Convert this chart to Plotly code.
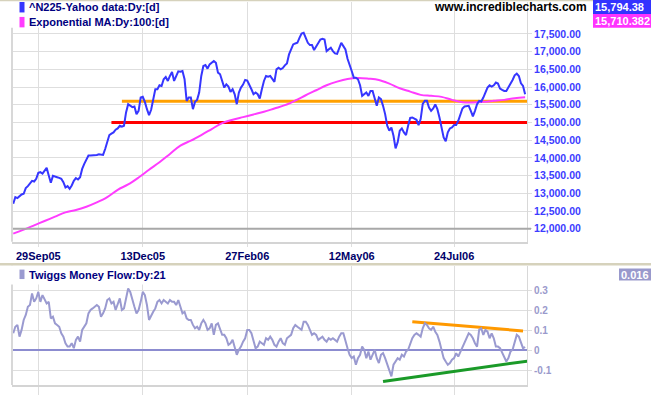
import plotly.graph_objects as go

# ---------------- data ----------------
tick_days = [12, 62, 112, 162, 211]
tick_labels = ["29Sep05", "13Dec05", "27Feb06", "12May06", "24Jul06"]

price = [
    12708, 12895, 12867, 12923, 12970, 12988, 13148, 13204, 13297, 13354,
    13335, 13410, 13578, 13597, 13559, 13644, 13719, 13503, 13297, 13494,
    13485, 13456, 13438, 13410, 13316, 13166, 13204, 13129, 13222, 13354,
    13428, 13391, 13456, 13690, 13831, 13953, 14065, 14065, 14065, 14065,
    14084, 14102, 14084, 14084, 14252, 14486, 14645, 14683, 14720, 14795,
    14832, 14907, 14879, 14907, 15282, 15516, 15478, 15431, 15450, 15235,
    15328, 15703, 15722, 15581, 15375, 15207, 15357, 15656, 15937, 15937,
    16049, 16030, 16218, 16283, 16171, 16311, 16424, 16171, 16311, 16442,
    16433, 16452, 16218, 15609, 15703, 15703, 15375, 15581, 15637, 15843,
    16311, 16592, 16620, 16517, 16639, 16686, 16732, 16686, 16405, 16358,
    16171, 15984, 16077, 16012, 15862, 15937, 15796, 15516, 15843, 15984,
    16068, 16199, 16180, 16030, 15937, 15796, 15843, 15796, 15675, 15937,
    16171, 16311, 16293, 16311, 16218, 16143, 16498, 16545, 16498, 16536,
    16611, 16667, 16920, 17079, 17200, 17229, 17247, 17388, 17509, 17528,
    17397, 17247, 17182, 17182, 17041, 17135, 17229, 17341, 17360, 17341,
    17013, 17060, 17107, 17013, 16948, 16938, 17107, 17247, 17154, 17060,
    16798, 16592, 16452, 16264, 16264, 16218, 16049, 15750, 15796, 15843,
    15750, 15890, 15890, 15656, 15469, 15703, 15656, 15469, 15235, 14907,
    14767, 14860, 14626, 14271, 14439, 14767, 14832, 14720, 14645, 14907,
    15132, 15141, 15113, 15076, 14926, 15094, 15525, 15609, 15609, 15422,
    15328, 15394, 15506, 15375, 15141, 14814, 14580, 14467, 14720, 14832,
    14860, 14926, 14926, 15048, 15235, 15394, 15450, 15450, 15469, 15328,
    15169, 15328, 15516, 15609, 15590, 15703, 15862, 15984, 16049, 16012,
    16049, 16124, 16096, 15956, 15918, 15890, 15890, 15984, 16077, 16199,
    16330, 16377, 16311, 16105, 16030, 15794.38,
]

ma_days = list(range(0, 246, 5))
ma100 = [
    11865, 11978, 12099, 12221, 12343, 12464, 12530, 12623, 12745, 12895,
    13101, 13251, 13447, 13666, 13878, 14112, 14346, 14486, 14645, 14814,
    14982, 15076, 15151, 15226, 15300, 15394, 15488, 15619, 15768, 15909,
    16049, 16152, 16227, 16255, 16236, 16199, 16096, 15965, 15871, 15778,
    15750, 15722, 15637, 15572, 15562, 15581, 15609, 15637, 15684, 15710.382,
]

tmf = [
    0.085, 0.118, 0.127, 0.068, 0.102, 0.152, 0.177, 0.218, 0.227, 0.285,
    0.243, 0.260, 0.293, 0.243, 0.277, 0.252, 0.235, 0.243, 0.160, 0.168,
    0.135, 0.127, 0.118, 0.085, 0.068, 0.035, 0.018, 0.018, 0.035, 0.010,
    0.052, 0.068, 0.043, 0.102, 0.118, 0.135, 0.185, 0.202, 0.210, 0.218,
    0.227, 0.218, 0.168, 0.185, 0.210, 0.252, 0.260, 0.235, 0.243, 0.202,
    0.227, 0.260, 0.202, 0.210, 0.260, 0.310, 0.293, 0.252, 0.218, 0.185,
    0.202, 0.243, 0.293, 0.277, 0.227, 0.152, 0.177, 0.193, 0.210, 0.243,
    0.252, 0.235, 0.252, 0.243, 0.235, 0.252, 0.243, 0.243, 0.227, 0.252,
    0.218, 0.185, 0.193, 0.160, 0.152, 0.152, 0.127, 0.110, 0.118, 0.102,
    0.135, 0.152, 0.135, 0.102, 0.110, 0.135, 0.077, 0.127, 0.135, 0.102,
    0.077, 0.077, 0.060, 0.027, 0.035, 0.052, 0.018, -0.023, 0.002, 0.018,
    0.043, 0.060, 0.102, 0.102, 0.085, 0.052, 0.010, 0.018, 0.043, 0.035,
    0.027, 0.060, 0.052, 0.068, 0.052, 0.027, 0.018, 0.043, 0.060, 0.035,
    0.027, 0.060, 0.068, 0.077, 0.110, 0.127, 0.118, 0.110, 0.102, 0.143,
    0.143, 0.127, 0.102, 0.077, 0.085, 0.077, 0.052, 0.060, 0.068, 0.052,
    0.043, 0.060, 0.052, 0.060, 0.052, 0.043, 0.068, 0.085, 0.085, 0.043,
    0.010, -0.023, -0.040, -0.032, -0.073, -0.040, -0.023, 0.018, 0.002, -0.040,
    -0.007, -0.048, -0.023, 0.002, -0.040, -0.065, -0.023, -0.015, -0.040, -0.073,
    -0.107, -0.132, -0.073, -0.057, -0.040, -0.048, -0.023, -0.032, -0.007, 0.002,
    0.035, 0.060, 0.077, 0.085, 0.077, 0.068, 0.110, 0.135, 0.127, 0.110,
    0.102, 0.118, 0.093, 0.077, 0.043, -0.007, -0.040, -0.057, -0.073, -0.065,
    -0.048, -0.040, -0.015, -0.032, -0.007, 0.010, 0.043, 0.060, 0.085, 0.077,
    0.060, 0.035, 0.018, 0.102, 0.110, 0.077, 0.102, 0.093, 0.060, 0.085,
    0.060, 0.018, 0.018, 0.010, -0.015, -0.032, -0.057, -0.040, -0.007, 0.002,
    0.043, 0.077, 0.068, 0.043, 0.010, 0.016,
]

support_x = [47, 246]
support_y = [15000, 15000]
resist_x = [52, 246]
resist_y = [15600, 15600]
tmf_upper_x = [191, 244]
tmf_upper_y = [0.143, 0.097]
tmf_lower_x = [177, 246]
tmf_lower_y = [-0.157, -0.055]

price_ticks = list(range(12000, 18000, 500))
price_tick_text = [f"{v:,.2f}" for v in price_ticks]
tmf_ticks = [-0.1, 0, 0.1, 0.2, 0.3]
tmf_tick_text = ["-0.1", "0", "0.1", "0.2", "0.3"]
baseline_level = 12000

last_price_text = "15,794.38"
last_ma_text = "15,710.382"
last_tmf_text = "0.016"

# ---------------- geometry helpers ----------------
W, H = 651, 395
ML, MR, MT, MB = 12, 124, 2, 8
PW = W - ML - MR
PH = H - MT - MB


def px(x):
    return (x - ML) / PW


def py(y):
    return (H - MB - y) / PH


FONT = "Liberation Sans, Arial, sans-serif"
BLUE = "#3636ff"
MAGENTA = "#ff3cff"
LAV = "#9a9ad0"
GRID = "#dedede"

fig = go.Figure()

fig.add_trace(go.Scatter(x=support_x, y=support_y, mode="lines",
                         line=dict(color="#ff0000", width=3), xaxis="x", yaxis="y"))
fig.add_trace(go.Scatter(x=resist_x, y=resist_y, mode="lines",
                         line=dict(color="#ffa000", width=3), xaxis="x", yaxis="y"))
fig.add_trace(go.Scatter(x=ma_days, y=ma100, mode="lines",
                         line=dict(color=MAGENTA, width=2, shape="spline"), xaxis="x", yaxis="y"))
fig.add_trace(go.Scatter(x=list(range(len(price))), y=price, mode="lines",
                         line=dict(color=BLUE, width=2), xaxis="x", yaxis="y"))

fig.add_trace(go.Scatter(x=tmf_upper_x, y=tmf_upper_y, mode="lines",
                         line=dict(color="#ff9900", width=3), xaxis="x2", yaxis="y2"))
fig.add_trace(go.Scatter(x=tmf_lower_x, y=tmf_lower_y, mode="lines",
                         line=dict(color="#1a9a28", width=3), xaxis="x2", yaxis="y2"))
fig.add_trace(go.Scatter(x=list(range(len(tmf))), y=tmf, mode="lines",
                         line=dict(color=LAV, width=2), xaxis="x2", yaxis="y2"))

xrange = [-0.59, 245.9]

shapes = [
    dict(type="line", xref="paper", yref="y", x0=0, x1=px(531), y0=baseline_level, y1=baseline_level,
         line=dict(color="#a8a8a8", width=2), layer="above"),
    dict(type="line", xref="paper", yref="y domain", x0=0, x1=0, y0=0, y1=1,
         line=dict(color="#d8d8d8", width=2)),
    dict(type="line", xref="paper", yref="y2 domain", x0=0, x1=0, y0=0, y1=1,
         line=dict(color="#d8d8d8", width=2)),
    dict(type="rect", xref="paper", yref="paper", x0=px(0), x1=px(180), y0=py(28), y1=py(0),
         fillcolor="white", line=dict(width=0), layer="above"),
    dict(type="rect", xref="paper", yref="paper", x0=px(0), x1=px(180), y0=py(286), y1=py(267),
         fillcolor="white", line=dict(width=0), layer="above"),
    dict(type="line", xref="paper", yref="paper", x0=px(0), x1=px(651), y0=py(265.5), y1=py(265.5),
         line=dict(color="#d6d2bc", width=2.5), layer="above"),
    dict(type="line", xref="paper", yref="paper", x0=px(0), x1=px(593), y0=py(0.5), y1=py(0.5),
         line=dict(color="#d6d2bc", width=1.5), layer="above"),
    dict(type="rect", xref="paper", yref="paper", x0=px(19.5), x1=px(24.5), y0=py(12.5), y1=py(2),
         fillcolor=BLUE, line=dict(width=0), layer="above"),
    dict(type="rect", xref="paper", yref="paper", x0=px(19.5), x1=px(24.5), y0=py(27.5), y1=py(17),
         fillcolor=MAGENTA, line=dict(width=0), layer="above"),
    dict(type="rect", xref="paper", yref="paper", x0=px(19.5), x1=px(24.5), y0=py(280.5), y1=py(271),
         fillcolor=LAV, line=dict(width=0), layer="above"),
    dict(type="rect", xref="paper", yref="paper", x0=px(593), x1=px(652), y0=py(14), y1=py(0),
         fillcolor="#3333ff", line=dict(width=0), layer="above"),
    dict(type="rect", xref="paper", yref="paper", x0=px(593), x1=px(652), y0=py(28), y1=py(14),
         fillcolor="#ff33ff", line=dict(width=0), layer="above"),
    dict(type="rect", xref="paper", yref="paper", x0=px(619), x1=px(652), y0=py(282), y1=py(270),
         fillcolor="#9999cc", line=dict(width=0), layer="above"),
]

annotations = [
    dict(text="<b>^N225-Yahoo data:Dy:[d]</b>", x=px(27), y=py(7.5)),
    dict(text="<b>Exponential MA:Dy:100:[d]</b>", x=px(27), y=py(22)),
    dict(text="<b>Twiggs Money Flow:Dy:21</b>", x=px(27), y=py(276)),
]
for a in annotations:
    a.update(xref="paper", yref="paper", xanchor="left", yanchor="middle", showarrow=False,
             font=dict(family=FONT, size=11, color="#000080"))

annotations += [
    dict(text="<b>www.incrediblecharts.com</b>", x=px(589), y=py(7.5), xref="paper", yref="paper",
         xanchor="right", yanchor="middle", showarrow=False,
         font=dict(family=FONT, size=12, color="black")),
    dict(text="<b>" + last_price_text + "</b>", x=px(593), y=py(7.5), xref="paper", yref="paper",
         xanchor="left", yanchor="middle", showarrow=False,
         font=dict(family=FONT, size=11, color="white")),
    dict(text="<b>" + last_ma_text + "</b>", x=px(593), y=py(21.5), xref="paper", yref="paper",
         xanchor="left", yanchor="middle", showarrow=False,
         font=dict(family=FONT, size=11, color="white")),
    dict(text="<b>" + last_tmf_text + "</b>", x=px(619), y=py(276.5), xref="paper", yref="paper",
         xanchor="left", yanchor="middle", showarrow=False,
         font=dict(family=FONT, size=11, color="white")),
]

fig.update_layout(
    width=W, height=H,
    margin=dict(l=ML, r=MR, t=MT, b=MB, pad=0),
    paper_bgcolor="white", plot_bgcolor="white",
    showlegend=False, hovermode=False,
    shapes=shapes, annotations=annotations,
    xaxis=dict(domain=[0, 1], anchor="y", range=xrange, tickmode="array",
               tickvals=tick_days, ticktext=tick_labels, showgrid=True, gridcolor=GRID,
               gridwidth=1, ticks="outside", ticklen=3, tickcolor=GRID, showline=True,
               linecolor="#d4d4d4", linewidth=2, zeroline=False,
               tickfont=dict(family=FONT, size=11, color="#00006a", weight="bold")),
    yaxis=dict(domain=[py(243), 1], anchor="x", range=[11635, 18398], side="right",
               tickmode="array", tickvals=price_ticks, ticktext=price_tick_text,
               showgrid=True, gridcolor=GRID, gridwidth=1, zeroline=False,
               ticks="outside", ticklen=4, tickcolor=GRID,
               showline=True, linecolor="#d8d8d8", linewidth=1,
               tickfont=dict(family=FONT, size=10.5, color="#3c3cff", weight="bold")),
    xaxis2=dict(domain=[0, 1], anchor="y2", range=xrange, matches="x", tickmode="array",
                tickvals=tick_days, showticklabels=False, showgrid=True, gridcolor=GRID,
                ticks="outside", ticklen=8, tickcolor=GRID, showline=True,
                linecolor="#d4d4d4", linewidth=2, zeroline=False),
    yaxis2=dict(domain=[0, py(267)], anchor="x2", range=[-0.175, 0.425], side="right",
                tickmode="array", tickvals=tmf_ticks, ticktext=tmf_tick_text,
                showgrid=True, gridcolor=GRID, zeroline=True, zerolinecolor="#8c8cd0",
                zerolinewidth=1.5, ticks="outside", ticklen=4, tickcolor=GRID,
                showline=True, linecolor="#d8d8d8", linewidth=1,
                tickfont=dict(family=FONT, size=10, color="#9a9acc", weight="bold")),
)

fig.write_html("out.html")
